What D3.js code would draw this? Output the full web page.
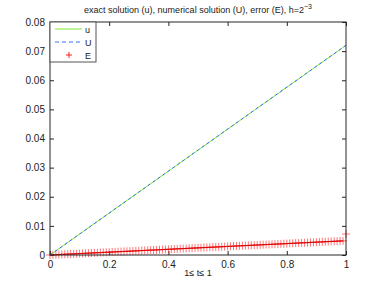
<!DOCTYPE html>
<html><head><meta charset="utf-8">
<script src="https://cdn.jsdelivr.net/npm/d3@7"></script>
<style>body{margin:0;background:#fff}svg{display:block;font-family:"Liberation Sans",Arial,sans-serif}</style>
</head><body>
<svg id="c" width="382" height="287"></svg>
<script>
const xTicks = [0, 0.2, 0.4, 0.6, 0.8, 1];
const yTicks = [0, 0.01, 0.02, 0.03, 0.04, 0.05, 0.06, 0.07, 0.08];
const tLine = [0, 0.25, 0.5, 0.75, 1];
const uExact = [0, 0.018, 0.036, 0.054, 0.072];
const uNum = [0, 0.018, 0.036, 0.054, 0.072];
const tErr = [0,0.01,0.02,0.03,0.04,0.05,0.06,0.07,0.08,0.09,0.1,0.11,0.12,0.13,0.14,0.15,0.16,0.17,0.18,0.19,0.2,0.21,0.22,0.23,0.24,0.25,0.26,0.27,0.28,0.29,0.3,0.31,0.32,0.33,0.34,0.35,0.36,0.37,0.38,0.39,0.4,0.41,0.42,0.43,0.44,0.45,0.46,0.47,0.48,0.49,0.5,0.51,0.52,0.53,0.54,0.55,0.56,0.57,0.58,0.59,0.6,0.61,0.62,0.63,0.64,0.65,0.66,0.67,0.68,0.69,0.7,0.71,0.72,0.73,0.74,0.75,0.76,0.77,0.78,0.79,0.8,0.81,0.82,0.83,0.84,0.85,0.86,0.87,0.88,0.89,0.9,0.91,0.92,0.93,0.94,0.95,0.96,0.97,0.98,0.99,1];
const err = [0,0.00005,0.0001,0.00015,0.0002,0.00025,0.00029,0.00034,0.00039,0.00044,0.00049,0.00054,0.00059,0.00064,0.00069,0.00074,0.00078,0.00083,0.00088,0.00093,0.00098,0.00103,0.00108,0.00113,0.00118,0.00123,0.00127,0.00132,0.00137,0.00142,0.00147,0.00152,0.00157,0.00162,0.00167,0.00172,0.00176,0.00181,0.00186,0.00191,0.00196,0.00201,0.00206,0.00211,0.00216,0.00221,0.00225,0.0023,0.00235,0.0024,0.00245,0.0025,0.00255,0.0026,0.00265,0.0027,0.00274,0.00279,0.00284,0.00289,0.00294,0.00299,0.00304,0.00309,0.00314,0.00319,0.00323,0.00328,0.00333,0.00338,0.00343,0.00348,0.00353,0.00358,0.00363,0.00368,0.00372,0.00377,0.00382,0.00387,0.00392,0.00397,0.00402,0.00407,0.00412,0.00417,0.00421,0.00426,0.00431,0.00436,0.00441,0.00446,0.00451,0.00456,0.00461,0.00466,0.0047,0.00475,0.0048,0.00485,0.0072];
const legendLabels = ["u", "U", "E"];

const L = 50, R = 346, T = 22, B = 255;
const svg = d3.select("#c");
const x = d3.scaleLinear().domain([0, 1]).range([L, R]);
const y = d3.scaleLinear().domain([0, 0.08]).range([B, T]);
const axisColor = "#262626";

function styleAxis(g){
  g.select(".domain").remove();
  g.selectAll("line").attr("stroke", axisColor);
  g.selectAll("text").attr("fill", "#222").attr("font-size", 10);
}
svg.append("g").attr("transform", `translate(0,${B})`)
  .call(d3.axisBottom(x).tickValues(xTicks).tickSizeInner(-4).tickSizeOuter(0).tickPadding(6).tickFormat(d3.format("~g")))
  .call(styleAxis);
svg.append("g").attr("transform", `translate(0,${T})`)
  .call(d3.axisTop(x).tickValues(xTicks).tickSizeInner(-4).tickSizeOuter(0).tickFormat(""))
  .call(styleAxis);
svg.append("g").attr("transform", `translate(${L},0)`)
  .call(d3.axisLeft(y).tickValues(yTicks).tickSizeInner(-4).tickSizeOuter(0).tickPadding(5).tickFormat(d3.format("~g")))
  .call(styleAxis);
svg.append("g").attr("transform", `translate(${R},0)`)
  .call(d3.axisRight(y).tickValues(yTicks).tickSizeInner(-4).tickSizeOuter(0).tickFormat(""))
  .call(styleAxis);

const clipG = svg.append("g");
const line = d3.line();
// error markers
const ms = 4;
const eg = clipG.append("g").attr("stroke", "#ff1a1a").attr("stroke-width", 1).attr("stroke-opacity", 0.6);
tErr.forEach((t, i) => {
  const px = x(t), py = y(err[i]);
  eg.append("path").attr("d", `M${px-ms},${py}H${px+ms}M${px},${py-ms}V${py+ms}`);
});
clipG.append("path").datum(tErr.slice(0, -1).map((t, i) => [x(t), y(err[i])]))
  .attr("d", line).attr("fill", "none").attr("stroke", "#d00000").attr("stroke-width", 0.9);

clipG.append("path").datum(tLine.map((t, i) => [x(t), y(uExact[i])]))
  .attr("d", line).attr("fill", "none").attr("stroke", "#80e830").attr("stroke-width", 1);
clipG.append("path").datum(tLine.map((t, i) => [x(t), y(uNum[i])]))
  .attr("d", line).attr("fill", "none").attr("stroke", "#3a6cff").attr("stroke-width", 1).attr("stroke-dasharray", "3,3");

// frame
svg.append("rect").attr("x", L).attr("y", T).attr("width", R - L).attr("height", B - T)
  .attr("fill", "none").attr("stroke", axisColor).attr("stroke-width", 1);

// title
const title = svg.append("text").attr("x", 198).attr("y", 13).attr("text-anchor", "middle")
  .attr("font-size", 9).attr("fill", "#222");
title.append("tspan").text("exact solution (u), numerical solution (U), error (E), h=2");
title.append("tspan").attr("dy", -4).attr("font-size", 7).text("−3");

// x label
svg.append("text").attr("x", 198).attr("y", 276).attr("text-anchor", "middle")
  .attr("font-size", 9).attr("fill", "#222").text("1≤ t≤ 1");

// legend
const lg = svg.append("g");
lg.append("rect").attr("x", L).attr("y", T).attr("width", 46).attr("height", 40)
  .attr("fill", "#fff").attr("stroke", "#555").attr("stroke-width", 1);
const ly = [29, 42, 55];
lg.append("line").attr("x1", 55).attr("x2", 82).attr("y1", ly[0]).attr("y2", ly[0]).attr("stroke", "#80e830");
lg.append("line").attr("x1", 55).attr("x2", 82).attr("y1", ly[1]).attr("y2", ly[1]).attr("stroke", "#3a6cff").attr("stroke-dasharray", "4,3");
lg.append("path").attr("d", `M${69-3},${ly[2]}H${69+3}M69,${ly[2]-3}V${ly[2]+3}`).attr("stroke", "#ff2020").attr("stroke-width", 1);
legendLabels.forEach((s, i) => {
  lg.append("text").attr("x", 85).attr("y", ly[i] + 3.5).attr("font-size", 9).attr("fill", "#222").text(s);
});
</script>
</body></html>
